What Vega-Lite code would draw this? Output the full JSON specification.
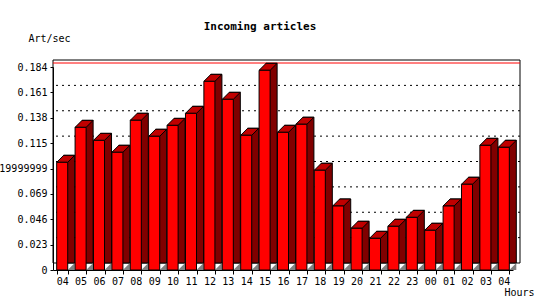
{
  "$schema": "https://vega.github.io/schema/vega-lite/v6.json",
  "width": 460,
  "height": 203,
  "autosize": {"type": "none"},
  "padding": {"left": 53, "top": 67, "right": 37, "bottom": 30},
  "background": "white",
  "title": {
    "text": "Incoming articles",
    "font": "DejaVu Sans Mono",
    "fontSize": 11,
    "fontWeight": "bold",
    "color": "black",
    "anchor": "middle",
    "dx": -23,
    "dy": 8,
    "baseline": "alphabetic",
    "offset": 0
  },
  "config": {
    "view": {"stroke": null},
    "axis": {
      "grid": false,
      "labelFont": "DejaVu Sans Mono",
      "labelFontSize": 10,
      "labelColor": "black",
      "labelOverlap": false,
      "titleFont": "DejaVu Sans Mono",
      "titleFontSize": 10,
      "titleFontWeight": "normal",
      "titleColor": "black",
      "tickColor": "black",
      "domainColor": "black"
    },
    "axisX": {
      "titleX": 451,
      "titleY": 25,
      "titleAlign": "left",
      "titleBaseline": "alphabetic",
      "labelAngle": 0,
      "labelPadding": 2,
      "tickBand": "extent",
      "tickSize": 4
    },
    "axisY": {
      "titleAngle": 0,
      "titleX": -25,
      "titleY": -26,
      "titleAlign": "left",
      "titleBaseline": "alphabetic",
      "labelPadding": 3,
      "tickSize": 3
    }
  },
  "data": {
    "values": [
      {"hour": "04", "rate": 0.0976},
      {"hour": "05", "rate": 0.1293},
      {"hour": "06", "rate": 0.1175},
      {"hour": "07", "rate": 0.1067},
      {"hour": "08", "rate": 0.1357},
      {"hour": "09", "rate": 0.1212},
      {"hour": "10", "rate": 0.1311},
      {"hour": "11", "rate": 0.1420},
      {"hour": "12", "rate": 0.1710},
      {"hour": "13", "rate": 0.1547},
      {"hour": "14", "rate": 0.1221},
      {"hour": "15", "rate": 0.1810},
      {"hour": "16", "rate": 0.1248},
      {"hour": "17", "rate": 0.1321},
      {"hour": "18", "rate": 0.0904},
      {"hour": "19", "rate": 0.0580},
      {"hour": "20", "rate": 0.0378},
      {"hour": "21", "rate": 0.0287},
      {"hour": "22", "rate": 0.0396},
      {"hour": "23", "rate": 0.0477},
      {"hour": "00", "rate": 0.0360},
      {"hour": "01", "rate": 0.0580},
      {"hour": "02", "rate": 0.0777},
      {"hour": "03", "rate": 0.1130},
      {"hour": "04 ", "rate": 0.1112}
    ]
  },
  "layer": [
    {
      "data": {"values": [{}]},
      "mark": {"type": "rect", "fill": "transparent", "stroke": "black", "strokeWidth": 1, "xOffset": 7, "x2Offset": 7, "yOffset": -7, "y2Offset": -7},
      "encoding": {
        "y": {"datum": 0.184, "type": "quantitative"},
        "y2": {"datum": 0}
      }
    },
    {
      "data": {"values": [{"tick": 0.023}, {"tick": 0.046}, {"tick": 0.069}, {"tick": 0.092}, {"tick": 0.115}, {"tick": 0.138}, {"tick": 0.161}]},
      "mark": {"type": "rule", "color": "black", "strokeWidth": 1, "strokeDash": [2, 4], "xOffset": 7, "x2Offset": 7, "yOffset": -7},
      "encoding": {
        "y": {"field": "tick", "type": "quantitative"}
      }
    },
    {
      "data": {"values": [{}]},
      "mark": {"type": "rule", "color": "#ff0000", "strokeWidth": 1, "xOffset": 7, "x2Offset": 7, "yOffset": -4},
      "encoding": {
        "y": {"datum": 0.184, "type": "quantitative"}
      }
    },
    {
      "mark": {"type": "bar", "fill": "#800000", "stroke": "black", "strokeWidth": 1, "xOffset": 7, "yOffset": -7},
      "encoding": {
        "x": {"field": "hour", "type": "nominal", "sort": null},
        "y": {"field": "rate", "type": "quantitative"}
      }
    },
    {
      "mark": {"type": "point", "shape": "M-1,1L1,-1L1,1Z", "size": 49, "filled": true, "fill": "#808080", "strokeWidth": 0, "opacity": 1, "xOffset": 9, "yOffset": -3.5},
      "encoding": {
        "x": {"field": "hour", "type": "nominal", "sort": null},
        "y": {"datum": 0, "type": "quantitative"}
      }
    },
    {
      "mark": {"type": "point", "shape": "M-1,0.388L0.224,0.388L1,-0.388L-0.224,-0.388Z", "size": 325, "filled": true, "fill": "#c00000", "stroke": "black", "strokeWidth": 1, "opacity": 1, "xOffset": 3.5, "yOffset": -3.5},
      "encoding": {
        "x": {"field": "hour", "type": "nominal", "sort": null},
        "y": {"field": "rate", "type": "quantitative"}
      }
    },
    {
      "mark": {"type": "bar", "fill": "#ff0000", "stroke": "black", "strokeWidth": 1},
      "encoding": {
        "x": {
          "field": "hour",
          "type": "nominal",
          "sort": null,
          "scale": {"paddingInner": 0.4, "paddingOuter": 0.2},
          "axis": {"title": "Hours", "labelExpr": "trim(datum.label)", "labelOverlap": false}
        },
        "y": {
          "field": "rate",
          "type": "quantitative",
          "scale": {"domain": [0, 0.184], "nice": false, "zero": true},
          "axis": {
            "title": "Art/sec",
            "values": [0, 0.023, 0.046, 0.069, 0.092, 0.115, 0.138, 0.161, 0.184],
            "tickCount": 12,
            "format": ".3~f",
            "labelOverlap": false,
            "labelBound": false,
            "labelExpr": "abs(datum.value - 0.092) < 0.0001 ? '0.0919999999' : datum.label"
          }
        }
      }
    }
  ]
}
